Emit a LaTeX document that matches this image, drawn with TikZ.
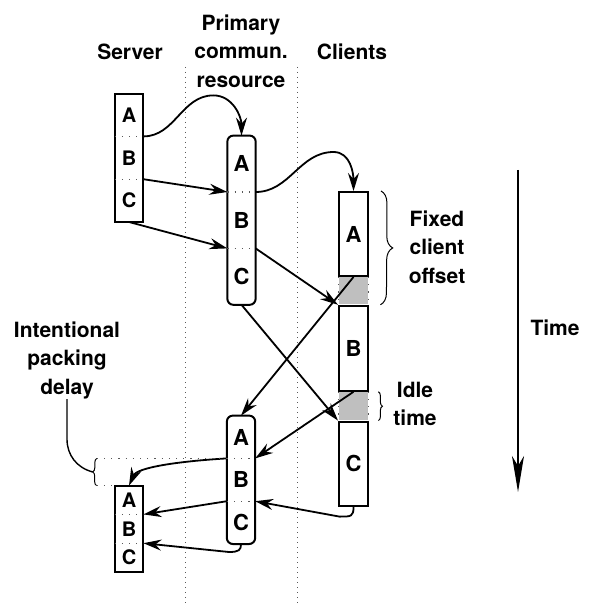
\documentclass[tikz,border=0pt]{standalone}
\usepackage{fontspec}
\setmainfont{TeX Gyre Heros}
\usetikzlibrary{arrows.meta,positioning,calc,decorations.pathreplacing}
\definecolor{IdleGray}{gray}{0.75}
\definecolor{LaneGray}{gray}{0.35}
\tikzset{
  srvcell/.style={inner sep=0pt, minimum width=14pt, minimum height=#1,
    font=\fontsize{10}{11}\selectfont\bfseries},
  srvcell/.default=21pt,
  pricell/.style={inner sep=0pt, minimum width=13.75pt, minimum height=#1,
    font=\fontsize{11}{12}\selectfont\bfseries},
  pricell/.default=27.8pt,
  clibox/.style={draw, line width=1pt, inner sep=0pt, minimum width=14.5pt,
    minimum height=#1, font=\fontsize{11}{12}\selectfont\bfseries},
  clibox/.default=42pt,
  idlebox/.style={fill=IdleGray, inner sep=0pt, minimum width=14.5pt, minimum height=#1},
  frame/.style={draw, line width=1pt},
  roundframe/.style={frame, rounded corners=3pt},
  sepline/.style={line width=0.6pt, dash pattern=on 0.6pt off 3pt, LaneGray},
  lane/.style={dotted, line width=0.5pt, LaneGray},
  msg/.style={-{Stealth[length=9pt, width=5.5pt, inset=3pt]}, line width=0.9pt},
  timearr/.style={-{Stealth[length=18pt, width=6pt, inset=5pt]}, line width=0.9pt},
  lbl/.style={align=center, inner sep=0pt, font=\fontsize{10.5}{14.25}\selectfont\bfseries},
  brc/.style={decorate, decoration={brace, amplitude=#1}, line width=0.5pt},
}

\begin{document}
\begin{tikzpicture}[x=0.5pt, y=0.5pt]
  \useasboundingbox (0,0) rectangle (589,-604);

  % swim lanes
  \foreach \lx in {185,297}
    \draw[lane] (\lx,-67) -- (\lx,-604);

  % column headers
  \node[lbl] (srvhead) at (130,-52) {Server};
  \node[lbl] (prihead) at (241,-51) {Primary\\commun.\\resource};
  \node[lbl] (clihead) at (352,-52) {Clients};

  % server, sending A, B, C
  \node[srvcell] (sA) at (129,-115) {A};
  \node[srvcell, below=0pt of sA] (sB) {B};
  \node[srvcell, below=0pt of sB] (sC) {C};
  \draw[frame] (sA.north west) rectangle (sC.south east);
  \draw[sepline] (sA.south west) -- (sA.south east);
  \draw[sepline] (sB.south west) -- (sB.south east);

  % primary resource, downlink
  \node[pricell] (pA) at (241.5,-163.8) {A};
  \node[pricell, below=0pt of pA] (pB) {B};
  \node[pricell, below=0pt of pB] (pC) {C};
  \draw[roundframe] (pA.north west) rectangle (pC.south east);
  \draw[sepline] (pA.south west) -- (pA.south east);
  \draw[sepline] (pB.south west) -- (pB.south east);

  % clients, with idle gaps between them
  \node[clibox] (cA) at (353.5,-234) {A};
  \node[idlebox=13.5pt, below=0pt of cA] (g1) {};
  \node[clibox=42.5pt, below=0pt of g1] (cB) {B};
  \node[idlebox=14pt, below=0pt of cB] (g2) {};
  \node[clibox, below=0pt of g2] (cC) {C};
  \foreach \g in {g1,g2} {
    \draw[sepline] (\g.north west) -- (\g.south west);
    \draw[sepline] (\g.north east) -- (\g.south east);
  }

  % primary resource, uplink
  \node[pricell=21pt] (qA) at (241,-437) {A};
  \node[pricell=21pt, below=0pt of qA] (qB) {B};
  \node[pricell=21pt, below=0pt of qB] (qC) {C};
  \draw[roundframe] (qA.north west) rectangle (qC.south east);
  \draw[sepline] (qA.south west) -- (qA.south east);
  \draw[sepline] (qB.south west) -- (qB.south east);

  % server, packed reply
  \node[srvcell=14pt] (fA) at (129,-500) {A};
  \node[srvcell=14pt, below=0pt of fA] (fB) {B};
  \node[srvcell=14pt, below=0pt of fB] (fC) {C};
  \draw[frame] (fA.north west) rectangle (fC.south east);
  \draw[sepline] (fA.south west) -- (fA.south east);
  \draw[sepline] (fB.south west) -- (fB.south east);

  % server -> primary
  \draw[msg] (sA.south east) to[out=0, in=180] ++(70,41) to[out=0, in=90] (pA.north);
  \draw[msg] (sB.south east) -- (pA.south west);
  \draw[msg] (sC.south) -- (pB.south west);

  % primary -> clients
  \draw[msg] (pA.south east) to[out=0, in=180] ++(78,40) to[out=0, in=90] (cA.north);
  \draw[msg] (pB.south east) -- (cB.north west);
  \draw[msg] (pC.south) -- (cC.north west);

  % clients -> primary
  \draw[msg] (cA.south) -- (qA.north);
  \draw[msg] (cB.south) -- (qA.south east);
  \draw[msg] (cC.south) .. controls +(0,-10) and +(12,0) .. ++(-14,-10) -- (qB.south east);

  % primary -> server
  \draw[msg] (qA.south west) .. controls +(-50,-3) and +(8,18) .. (fA.north);
  \draw[msg] (qB.south west) -- (fA.south east);
  \draw[msg] (qC.south) .. controls +(0,-6) and +(10,0) .. ++(-12,-8) -- (fB.south east);

  % fixed offset and idle time
  \draw[brc=6pt] ($(cA.north east)+(12,0)$) -- ($(g1.south east)+(12,0)$);
  \node[lbl] (offset) at (437,-247) {Fixed\\client\\offset};
  \draw[brc=2pt] ($(g2.north east)+(10,0)$) -- ($(g2.south east)+(10,0)$);
  \node[lbl] (idle) at (415,-404) {Idle\\time};

  % packing delay
  \coordinate (dtop) at ($(qA.south west)+(-130,0)$);
  \coordinate (dbot) at ($(fA.north west)+(-18,0)$);
  \coordinate (dtip) at ($(dtop)!0.5!(dbot)+(-4,0)$);
  \draw[sepline] (dtop) -- (qA.south west);
  \draw[sepline] (dbot) -- (fA.north west);
  \draw[brc=2pt] (dbot) -- (dtop);
  \node[lbl] (delay) at (67,-360) {Intentional\\packing\\delay};
  \draw[line width=0.7pt] (delay.south) -- ++(0,-40) to[out=-90, in=165] (dtip);

  % time axis
  \coordinate (t0) at (518,-170);
  \coordinate (t1) at (518,-492);
  \draw[timearr] (t0) -- (t1);
  \node[lbl] (time) at (555,-328) {Time};
\end{tikzpicture}
\end{document}
